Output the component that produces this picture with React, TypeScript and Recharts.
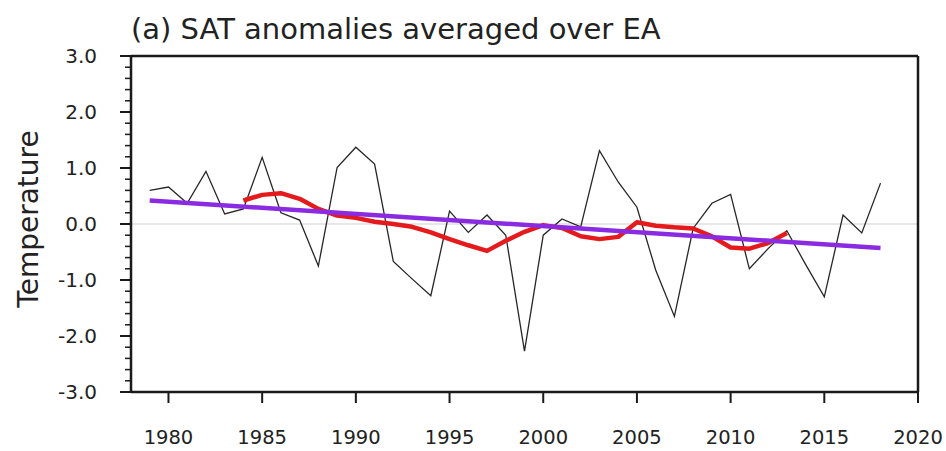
import { LineChart, Line, XAxis, YAxis, ReferenceLine } from "recharts";

// ── Data ───────────────────────────────────────────────────────────────────
const years = [
  1979, 1980, 1981, 1982, 1983, 1984, 1985, 1986, 1987, 1988,
  1989, 1990, 1991, 1992, 1993, 1994, 1995, 1996, 1997, 1998,
  1999, 2000, 2001, 2002, 2003, 2004, 2005, 2006, 2007, 2008,
  2009, 2010, 2011, 2012, 2013, 2014, 2015, 2016, 2017, 2018,
];

// annual SAT anomaly
const satAnomaly = [
  0.6, 0.66, 0.37, 0.94, 0.18, 0.27, 1.19, 0.2, 0.07, -0.75,
  1.01, 1.37, 1.07, -0.67, -0.98, -1.28, 0.23, -0.15, 0.16, -0.2,
  -2.27, -0.2, 0.09, -0.05, 1.31, 0.75, 0.3, -0.82, -1.65, -0.08,
  0.37, 0.53, -0.8, -0.44, -0.12, -0.72, -1.3, 0.16, -0.16, 0.73,
];

// running mean, 1984–2013
const smoothYears = [
  1984, 1985, 1986, 1987, 1988, 1989, 1990, 1991, 1992, 1993,
  1994, 1995, 1996, 1997, 1998, 1999, 2000, 2001, 2002, 2003,
  2004, 2005, 2006, 2007, 2008, 2009, 2010, 2011, 2012, 2013,
];
const smoothed = [
  0.42, 0.52, 0.55, 0.45, 0.27, 0.15, 0.11, 0.04, 0.0, -0.05,
  -0.15, -0.27, -0.38, -0.48, -0.3, -0.14, -0.02, -0.07, -0.22, -0.27,
  -0.23, 0.03, -0.03, -0.06, -0.08, -0.22, -0.42, -0.44, -0.34, -0.16,
];

// linear trend end points
const trendYears = [1979, 2018];
const trend = [0.42, -0.43];

const xTicks = [1980, 1985, 1990, 1995, 2000, 2005, 2010, 2015, 2020];
const yTicks = [
  -3, -2.8, -2.6, -2.4, -2.2, -2, -1.8, -1.6, -1.4, -1.2, -1, -0.8, -0.6, -0.4, -0.2, 0,
  0.2, 0.4, 0.6, 0.8, 1, 1.2, 1.4, 1.6, 1.8, 2, 2.2, 2.4, 2.6, 2.8, 3,
];
const yLabelled = [-3, -2, -1, 0, 1, 2, 3];

const rows = years.map((year, i) => {
  const si = smoothYears.indexOf(year);
  const ti = trendYears.indexOf(year);
  return {
    year,
    sat: satAnomaly[i],
    smooth: si >= 0 ? smoothed[si] : null,
    trend: ti >= 0 ? trend[ti] : null,
  };
});

const FONT = '"DejaVu Sans", sans-serif';
const frame = "#1a1a1a";
const textColor = "#222";

const isMajor = (v: number) => yLabelled.some((m) => Math.abs(m - v) < 1e-6);

// left axis: major + minor ticks drawn outward, labels on the majors
function LeftTick({ x, y, payload }: { x?: number; y?: number; payload?: { value: number } }) {
  const v = payload?.value ?? 0;
  const major = isMajor(v);
  const len = major ? 11 : 6;
  return (
    <g>
      <line x1={x} x2={(x ?? 0) - len} y1={y} y2={y} stroke={frame} strokeWidth={major ? 2 : 1.5} />
      {major && (
        <text x={(x ?? 0) - 34} y={y} dy="0.36em" textAnchor="end" fontSize={20} fill={textColor} fontFamily={FONT}>
          {v.toFixed(1)}
        </text>
      )}
    </g>
  );
}

function RightTick({ x, y, payload }: { x?: number; y?: number; payload?: { value: number } }) {
  const v = payload?.value ?? 0;
  const major = isMajor(v);
  const len = major ? 10 : 5;
  return (
    <line x1={x} x2={(x ?? 0) + len} y1={y} y2={y} stroke={frame} strokeWidth={major ? 2 : 1.5} />
  );
}

export default function App() {
  return (
    <div style={{ position: "absolute", left: 0, top: 0, width: 946, height: 451, background: "#fff", fontFamily: FONT }}>
      <LineChart width={946} height={451} data={rows} margin={{ top: 55, right: 0, bottom: 0, left: 0 }}>
        <XAxis
          xAxisId="b"
          dataKey="year"
          type="number"
          domain={[1978, 2020]}
          ticks={xTicks}
          interval={0}
          height={59}
          tickSize={11}
          tickMargin={27}
          stroke={frame}
          axisLine={{ strokeWidth: 2.5 }}
          tickLine={{ strokeWidth: 2 }}
          tick={{ fontSize: 19.5, fill: textColor, fontFamily: FONT }}
        />
        <XAxis
          xAxisId="t"
          orientation="top"
          dataKey="year"
          type="number"
          domain={[1978, 2020]}
          height={1}
          tick={false}
          tickLine={false}
          stroke={frame}
          axisLine={{ strokeWidth: 2.5 }}
        />
        <YAxis
          yAxisId="l"
          domain={[-3, 3]}
          ticks={yTicks}
          interval={0}
          width={131}
          tickSize={0}
          tickMargin={0}
          tickLine={false}
          stroke={frame}
          axisLine={{ strokeWidth: 2.5 }}
          tick={<LeftTick />}
        />
        <YAxis
          yAxisId="r"
          orientation="right"
          domain={[-3, 3]}
          ticks={yTicks}
          interval={0}
          width={28}
          tickSize={0}
          tickMargin={0}
          tickLine={false}
          stroke={frame}
          axisLine={{ strokeWidth: 2.5 }}
          tick={<RightTick />}
        />

        <ReferenceLine xAxisId="b" yAxisId="l" y={0} stroke="#cfcfcf" strokeWidth={1} />

        <Line
          xAxisId="b"
          yAxisId="l"
          dataKey="sat"
          type="linear"
          stroke="#262626"
          strokeWidth={1.3}
          dot={false}
          isAnimationActive={false}
        />
        <Line
          xAxisId="b"
          yAxisId="l"
          dataKey="smooth"
          type="linear"
          stroke="#e41a1c"
          strokeWidth={4.5}
          strokeLinejoin="round"
          dot={false}
          isAnimationActive={false}
        />
        <Line
          xAxisId="b"
          yAxisId="l"
          dataKey="trend"
          type="linear"
          connectNulls
          stroke="#8a2be2"
          strokeWidth={4.5}
          dot={false}
          isAnimationActive={false}
        />
      </LineChart>

      <svg width={946} height={451} style={{ position: "absolute", left: 0, top: 0, pointerEvents: "none" }}>
        <text x={131} y={39} fontSize={29} fill={textColor} fontFamily={FONT}>
          (a) SAT anomalies averaged over EA
        </text>
        <text
          transform="rotate(-90)"
          x={-219}
          y={38}
          textAnchor="middle"
          fontSize={28}
          fill={textColor}
          fontFamily={FONT}
        >
          Temperature
        </text>
      </svg>
    </div>
  );
}
